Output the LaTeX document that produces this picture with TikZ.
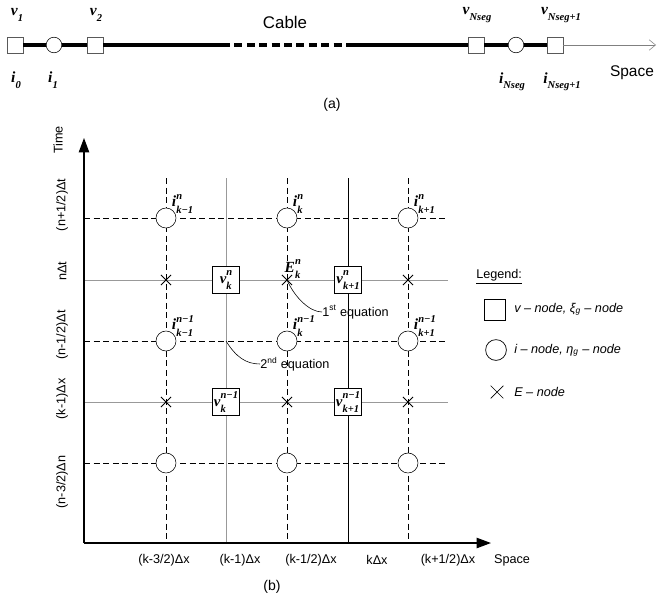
\documentclass[tikz,border=0pt]{standalone}
\usepackage{fontspec}
\setmainfont{Liberation Sans}
\newfontfamily\tnr{Liberation Serif}
\usetikzlibrary{shapes,arrows,positioning,calc,arrows.meta}

% bold italic Times-like symbols with scripts
\newcommand{\scr}{\fontsize{7.5}{8}\selectfont}
\newcommand{\vsub}[2]{{\tnr\bfseries\itshape #1\raisebox{-0.35em}{\scr #2}}}
\newcommand{\var}[3]{{\tnr\bfseries\itshape #1\ooalign{\raisebox{0.5em}{\scr #2}\cr\raisebox{-0.4em}{\scr #3}\cr}}}

\tikzset{
  cable/.style={line width=1mm},
  vsq/.style={draw=gray!70!black, fill=white, minimum size=4mm, inner sep=0pt},
  icirc/.style={draw, circle, fill=white, minimum size=3.9mm, inner sep=0pt},
  inode/.style={draw, circle, fill=white, minimum size=5mm, inner sep=0pt, line width=0.4pt},
  vnode/.style={draw, line width=0.9pt, fill=white, minimum size=6.6mm, inner sep=0pt, font=\fontsize{10.5}{11}\selectfont},
  enode/.style={draw, cross out, minimum size=2.3mm, inner sep=0pt, line width=0.6pt},
  grid/.style={line width=0.45pt, dash pattern=on 1.5mm off 0.9mm},
  gsolid/.style={line width=0.5pt, draw=gray!80, solid},
  bsolid/.style={line width=0.5pt, solid},
  axis/.style={line width=0.9pt, -{Triangle[length=3.6mm, width=2.6mm]}},
  vlab/.style={font=\fontsize{11}{12}\selectfont, inner sep=0pt},
  ilab/.style={font=\fontsize{11}{12}\selectfont, inner sep=0.3pt, anchor=south west},
  small/.style={font=\fontsize{9}{10}\selectfont, inner sep=0pt},
  leg/.style={font=\fontsize{9}{10}\selectfont\itshape, inner sep=0pt, anchor=west},
  side/.style={font=\fontsize{9}{10}\selectfont, inner sep=0pt, rotate=90}
}

\begin{document}
\begin{tikzpicture}[x=0.25mm, y=-0.25mm]
    \useasboundingbox (0,0) rectangle (663,600);

    % (a) cable
    \node[vsq] (v1) at (15,45) {};
    \node[icirc] (i1) at (54,45) {};
    \node[vsq] (v2) at (95,45) {};
    \coordinate (d0) at (222,45);
    \coordinate (d1) at (347,45);
    \node[vsq] (vN) at (476,45) {};
    \node[icirc] (iN) at (516,45) {};
    \node[vsq] (vN1) at (555,45) {};
    \coordinate (sp) at (656,45);
    \draw[cable] (v1) -- (i1) -- (v2) -- (d0);
    \draw[cable, dash pattern=on 2mm off 1.1mm] (d0) -- (d1);
    \draw[cable] (d1) -- (vN) -- (iN) -- (vN1);
    \draw[gray, line width=0.4pt, -{Straight Barb[length=1.6mm, width=2.6mm]}] (vN1) -- (sp);

    \node[vlab] (lv1) at (17,15) {\vsub{v}{1}};
    \node[vlab] (lv2) at (96,15) {\vsub{v}{2}};
    \node[vlab] (lvN) at (477,15) {\vsub{v}{Nseg}};
    \node[vlab] (lvN1) at (561,15) {\vsub{v}{Nseg+1}};
    \node[vlab] (li0) at (16,80) {\vsub{i}{0}};
    \node[vlab] (li1) at (53,80) {\vsub{i}{1}};
    \node[vlab] (liN) at (512,82) {\vsub{i}{Nseg}};
    \node[vlab] (liN1) at (562,82) {\vsub{i}{Nseg+1}};
    \node[font=\fontsize{12}{13}\selectfont, inner sep=0pt] (cable) at (285,22) {Cable};
    \node[font=\fontsize{11}{12}\selectfont, inner sep=0pt] (spacea) at (632,73) {Space};
    \node[font=\fontsize{10}{11}\selectfont, inner sep=0pt] (capa) at (332,105) {(a)};

    % (b) grid
    \foreach \x/\s [count=\c] in {166/grid, 226/gsolid, 287/grid, 348/bsolid, 408/grid} {
        \coordinate (ct\c) at (\x,178);
        \coordinate (cb\c) at (\x,543);
        \draw[grid, \s] (ct\c) -- (cb\c);
    }
    \foreach \y/\s [count=\r] in {218/grid, 280/gsolid, 341/grid, 402/gsolid, 463/grid} {
        \coordinate (rl\r) at (84,\y);
        \coordinate (rr\r) at (448,\y);
        \draw[grid, \s] (rl\r) -- (rr\r);
    }

    % axes
    \coordinate (O) at (84,543);
    \coordinate (tEnd) at (84,138);
    \coordinate (xEnd) at (491,543);
    \draw[axis] (O) -- (tEnd);
    \draw[axis] (O) -- (xEnd);

    % i-nodes and E-nodes
    \foreach \c in {1,3,5} {
        \foreach \r in {1,3,5}
            \node[inode] (i\c\r) at (ct\c |- rl\r) {};
        \foreach \r in {2,4}
            \node[enode] (e\c\r) at (ct\c |- rl\r) {};
    }
    % v-nodes
    \node[vnode] (v22) at (ct2 |- rl2) {\var{v}{n}{k}};
    \node[vnode] (v42) at (ct4 |- rl2) {\var{v}{n}{k+1}};
    \node[vnode] (v24) at (ct2 |- rl4) {\var{v}{n−1}{k}};
    \node[vnode] (v44) at (ct4 |- rl4) {\var{v}{n−1}{k+1}};

    % labels
    \foreach \c/\k in {1/k−1, 3/k, 5/k+1} {
        \node[ilab] (li\c1) at ($(i\c1.north east)+(-2,3)$) {\var{i}{n}{\k}};
        \node[ilab] (li\c3) at ($(i\c3.north east)+(-2,3)$) {\var{i}{n−1}{\k}};
    }
    \node[ilab] (lE) at ($(e32)+(-3,-1)$) {\var{E}{n}{k}};

    % equations
    \node[small, anchor=west] (eq1) at (322,312) {1\textsuperscript{st} equation};
    \node[small, anchor=west] (eq2) at (260,364) {2\textsuperscript{nd} equation};
    \draw[line width=0.4pt] (e32.center) .. controls +(8,18) and +(-12,0) .. (eq1.west);
    \draw[line width=0.4pt] (ct2 |- rl3) .. controls +(10,16) and +(-14,0) .. (eq2.west);

    % axis labels
    \node[side] (tTime) at (58,140) {Time};
    \node[side] (t1) at (62,205) {(n+1/2)Δt};
    \node[side] (t2) at (62,271) {nΔt};
    \node[side] (t3) at (62,335) {(n-1/2)Δt};
    \node[side] (t4) at (62,399) {(k-1)Δx};
    \node[side] (t5) at (62,482) {(n-3/2)Δn};
    \node[small] (x1) at (164,560) {(k-3/2)Δx};
    \node[small] (x2) at (240,560) {(k-1)Δx};
    \node[small] (x3) at (311,560) {(k-1/2)Δx};
    \node[small] (x4) at (377,560) {kΔx};
    \node[small] (x5) at (448,560) {(k+1/2)Δx};
    \node[small] (spaceb) at (512,560) {Space};
    \node[font=\fontsize{10}{11}\selectfont, inner sep=0pt] (capb) at (272,587) {(b)};

    % legend
    \node[small, anchor=west] (legT) at (476,277) {\underline{Legend:}};
    \node[draw, line width=0.5pt, minimum size=5.2mm, inner sep=0pt] (legV) at (495,310) {};
    \node[draw, circle, line width=0.5pt, minimum size=5.2mm, inner sep=0pt] (legI) at (496,350) {};
    \node[enode, minimum size=3mm, line width=0.5pt] (legE) at (497,392) {};
    \node[leg] (legVt) at (514,309) {v – node, ξ\textsubscript{g} – node};
    \node[leg] (legIt) at (514,350) {i – node, η\textsubscript{g} – node};
    \node[leg] (legEt) at (514,392) {E – node};
\end{tikzpicture}
\end{document}
